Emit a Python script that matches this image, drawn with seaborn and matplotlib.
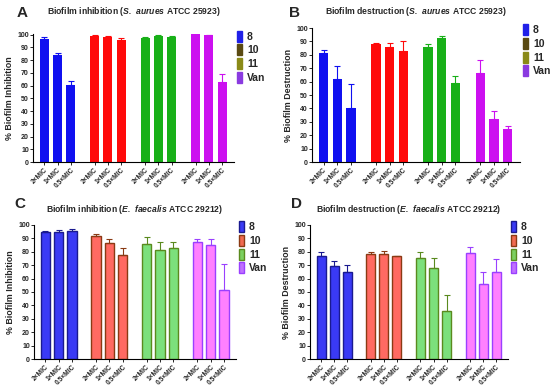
import numpy as np
import pandas as pd
import seaborn as sns
import matplotlib.pyplot as plt
from matplotlib.patches import Patch

compounds = ["8", "10", "11", "Van"]
doses = ["2×MIC", "1×MIC", "0.5×MIC"]

# bar heights and upper error
inh_sa = [96.3, 84.0, 60.8, 99.0, 98.5, 96.0, 97.5, 99.0, 98.5, 100.3, 99.5, 63.0]
inh_sa_err = [1.5, 1.7, 2.5, 0.5, 0.6, 1.5, 0.6, 0.5, 0.5, 0.2, 0.4, 6.0]
des_sa = [81.1, 61.8, 40.2, 88.0, 85.9, 83.1, 85.9, 92.3, 59.0, 66.7, 32.3, 24.8]
des_sa_err = [2.8, 10.2, 17.8, 1.0, 2.9, 6.9, 1.9, 2.0, 5.3, 9.2, 5.9, 1.7]
inh_ef = [94.5, 94.8, 95.3, 91.5, 86.6, 77.6, 85.8, 81.1, 82.6, 87.0, 85.1, 51.2]
inh_ef_err = [1.3, 1.7, 2.0, 2.0, 3.0, 5.4, 5.0, 6.2, 4.7, 2.8, 4.7, 19.9]
des_ef = [77.1, 69.2, 64.7, 78.1, 78.4, 76.6, 75.6, 67.9, 35.6, 78.9, 56.0, 65.0]
des_ef_err = [2.9, 3.8, 5.7, 1.9, 2.2, 0.4, 4.3, 7.2, 12.4, 4.7, 9.0, 9.4]

# colours
solid_fill = ["#1010f0", "#ff0a0a", "#18b018", "#cc10f0"]
solid_legend = ["#2020e8", "#5a4a12", "#8a8a18", "#8a3ae0"]
open_fill = ["#3a3af5", "#ff6a62", "#7ce07c", "#ff80ff"]
open_edge = ["#1a1a90", "#8a3a14", "#5a8a1e", "#9a40ff"]
open_legend_fill = ["#3a3af5", "#f06a50", "#7cd060", "#c070ff"]

sns.set_theme(style="ticks")
plt.rcParams["font.family"] = ["Liberation Sans", "DejaVu Sans"]
plt.rcParams["mathtext.fontset"] = "custom"
plt.rcParams["mathtext.bfit"] = "Liberation Sans:italic:bold"
plt.rcParams["mathtext.rm"] = "Liberation Sans:bold"


def make_frame(values, errs):
    rows = []
    for g, comp in enumerate(compounds):
        for i, dose in enumerate(doses):
            k = g * 3 + i
            rows.append({"pos": g * 3.8 + i, "compound": comp, "dose": dose,
                         "val": values[k], "err": errs[k]})
    return pd.DataFrame(rows)


def draw_panel(ax, values, errs, fills, edges, leg_fill, leg_edge, ylabel, ymax=100):
    df = make_frame(values, errs)
    sns.barplot(data=df, x="pos", y="val", hue="compound", hue_order=compounds,
                palette=fills, native_scale=True, dodge=False, errorbar=None,
                width=0.68, legend=False, ax=ax, saturation=1)
    for p in ax.patches:
        cx = p.get_x() + p.get_width() / 2
        g = int(np.argmin(np.abs(df["pos"].values - cx))) // 3
        p.set_edgecolor(edges[g])
        p.set_linewidth(1.0 if edges is not fills else 0)
    for g, comp in enumerate(compounds):
        sub = df[df["compound"] == comp]
        ax.errorbar(sub["pos"], sub["val"], yerr=[np.zeros(len(sub)), sub["err"]],
                    fmt="none", ecolor=edges[g], elinewidth=0.8, capsize=2, capthick=0.8)
    ax.set_xlim(-0.85, 14.3)
    ax.set_ylim(0, ymax)
    ax.set_yticks(range(0, 101, 10))
    ax.set_xticks(df["pos"])
    ax.set_xticklabels(df["dose"], rotation=45, ha="right", rotation_mode="anchor",
                       fontsize=4.8, fontweight="bold")
    ax.tick_params(axis="y", labelsize=5, length=2, width=0.7, pad=1)
    ax.tick_params(axis="x", length=2, width=0.7, pad=1)
    for lab in ax.get_yticklabels():
        lab.set_fontweight("bold")
    ax.set_xlabel("")
    ax.set_ylabel(ylabel, fontsize=6.4, fontweight="bold", labelpad=2.5)
    sns.despine(ax=ax)
    for s in ["left", "bottom"]:
        ax.spines[s].set_linewidth(0.8)
        ax.spines[s].set_color("black")
    handles = [Patch(facecolor=leg_fill[g], edgecolor=leg_edge[g], linewidth=1.0)
               for g in range(4)]
    ax.legend(handles, compounds, loc="upper left", bbox_to_anchor=(1.0, 1.05),
              borderaxespad=0.2, borderpad=0.1,
              frameon=False, handlelength=0.5, handleheight=1.25, handletextpad=0.45,
              labelspacing=0.25, prop={"weight": "bold", "size": 7.5})


fig = plt.figure(figsize=(5.5, 3.9), dpi=100)
W, H = 550.0, 390.0

axA = fig.add_axes([33 / W, 1 - 162 / H, 201 / W, 128 / H])
axB = fig.add_axes([312 / W, 1 - 162 / H, 208 / W, 134 / H])
axC = fig.add_axes([34 / W, 1 - 359 / H, 202 / W, 134 / H])
axD = fig.add_axes([310 / W, 1 - 359 / H, 198 / W, 134 / H])

draw_panel(axA, inh_sa, inh_sa_err, solid_fill, solid_fill, solid_legend, solid_legend,
           "% Biofilm Inhibition", ymax=100.5)
draw_panel(axB, des_sa, des_sa_err, solid_fill, solid_fill, solid_legend, solid_legend,
           "% Biofilm Destruction")
draw_panel(axC, inh_ef, inh_ef_err, open_fill, open_edge, open_legend_fill, open_edge,
           "% Biofilm Inhibition")
draw_panel(axD, des_ef, des_ef_err, open_fill, open_edge, open_legend_fill, open_edge,
           "% Biofilm Destruction")

titles = [
    (axA, r"Biofilm inhibition ($\mathbfit{S.\ aurues}$ ATCC 25923)", 12),
    (axB, r"Biofilm destruction ($\mathbfit{S.\ aurues}$ ATCC 25923)", 12),
    (axC, r"Biofilm inhibition ($\mathbfit{E.\ faecalis}$ ATCC 29212)", 209),
    (axD, r"Biofilm destruction ($\mathbfit{E.\ faecalis}$ ATCC 29212)", 209),
]
for ax, txt, ypx in titles:
    bb = ax.get_position()
    fig.text((bb.x0 + bb.x1) / 2, 1 - ypx / H, txt, ha="center", va="center",
             fontsize=6.2, fontweight="bold")

for letter, xpx, ypx in [("A", 22, 13), ("B", 294, 13), ("C", 20, 204), ("D", 296, 204)]:
    fig.text(xpx / W, 1 - ypx / H, letter, ha="center", va="center",
             fontsize=11, fontweight="bold")

fig.savefig("out.png", dpi=100)
